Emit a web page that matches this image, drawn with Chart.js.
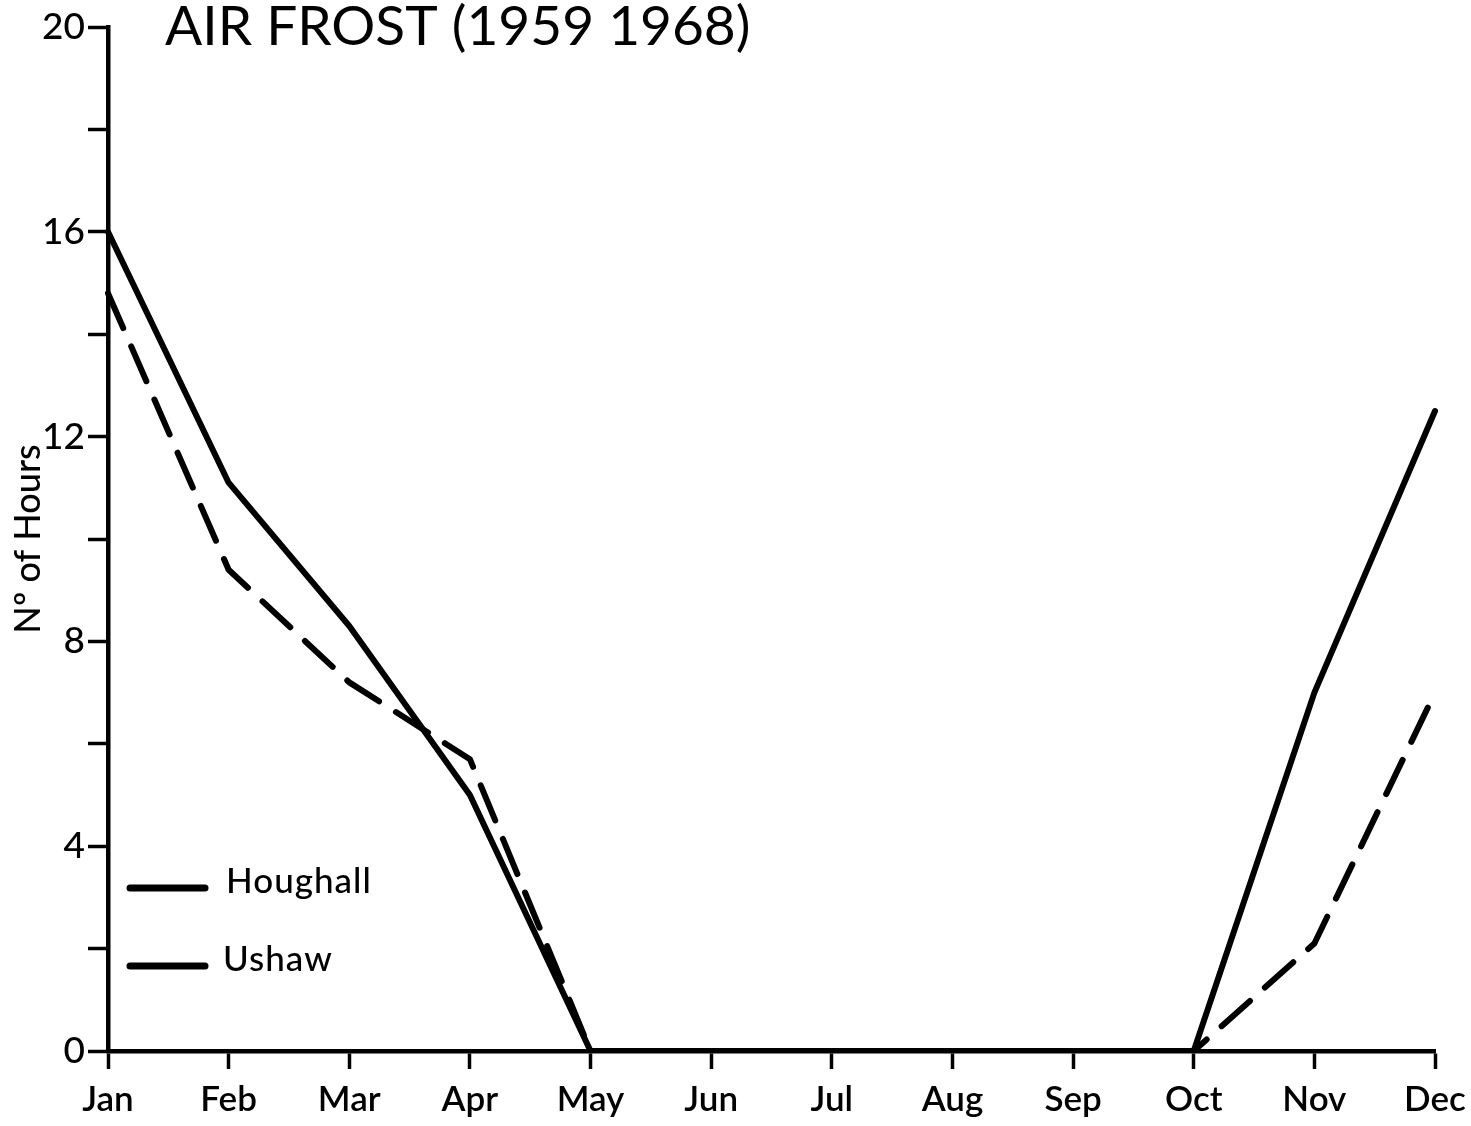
<!DOCTYPE html>
<html>
<head>
<meta charset="utf-8">
<script src="https://cdn.jsdelivr.net/npm/chart.js@4.4.1/dist/chart.umd.min.js"></script>
<style>
  html, body { margin: 0; padding: 0; background: #fff; }
  #wrap { width: 1471px; height: 1126px; position: relative; }
</style>
</head>
<body>
<div id="wrap"><canvas id="c" width="1471" height="1126"></canvas></div>
<script>
// ---- data ----
const chartTitle = 'AIR FROST (1959 1968)';
const yAxisTitle = 'N\u00BA of Hours';
const months = ['Jan','Feb','Mar','Apr','May','Jun','Jul','Aug','Sep','Oct','Nov','Dec'];
const houghall = [16.0, 11.1, 8.3, 5.0, 0, 0, 0, 0, 0, 0, 7.0, 12.5];
const ushaw    = [14.8, 9.4, 7.2, 5.7, 0, 0, 0, 0, 0, 0, 2.1, 7.0];
const yTickLabels = [0, 4, 8, 12, 16, 20];

const FONT = 'Lato, "Open Sans", "DejaVu Sans", sans-serif';

const overlayPlugin = {
  id: 'overlay',
  afterDraw(chart) {
    const ctx = chart.ctx;
    ctx.save();
    // title
    ctx.fillStyle = '#000';
    ctx.font = '400 55px ' + FONT;
    ctx.textBaseline = 'alphabetic';
    ctx.textAlign = 'left';
    ctx.fillText(chartTitle, 165, 45);
    if ('letterSpacing' in ctx) ctx.letterSpacing = '1px';
    // legend inside the plot (bottom-left)
    const items = [
      { ds: chart.data.datasets[0], y: 888, tx: 226 },
      { ds: chart.data.datasets[1], y: 966, tx: 223 }
    ];
    ctx.font = '500 35px ' + FONT;
    ctx.textBaseline = 'middle';
    items.forEach(it => {
      ctx.beginPath();
      ctx.lineWidth = 7;
      ctx.lineCap = 'round';
      ctx.strokeStyle = it.ds.borderColor;
      ctx.setLineDash([]);
      ctx.moveTo(130, it.y);
      ctx.lineTo(205, it.y);
      ctx.stroke();
      ctx.fillText(it.ds.label, it.tx, it.y - 6);
    });
    ctx.restore();
  }
};

new Chart(document.getElementById('c'), {
  type: 'line',
  data: {
    labels: months,
    datasets: [
      {
        label: 'Houghall',
        data: houghall,
        borderColor: '#000',
        borderWidth: 6,
        borderCapStyle: 'round',
        borderJoinStyle: 'round',
        pointRadius: 0,
        tension: 0,
        fill: false
      },
      {
        label: 'Ushaw',
        data: ushaw,
        borderColor: '#000',
        borderWidth: 6,
        borderDash: [38, 20],
        borderCapStyle: 'round',
        borderJoinStyle: 'round',
        pointRadius: 0,
        tension: 0,
        fill: false
      }
    ]
  },
  options: {
    responsive: false,
    animation: false,
    devicePixelRatio: 1,
    layout: { padding: { top: 27, right: 36, left: 0, bottom: 0 } },
    plugins: {
      legend: { display: false },
      title: { display: false },
      tooltip: { enabled: false }
    },
    scales: {
      x: {
        type: 'category',
        offset: false,
        afterFit(scale) { scale.height = 75; scale.paddingLeft = 0; scale.paddingRight = 0; },
        grid: {
          display: true,
          drawOnChartArea: false,
          drawTicks: true,
          tickLength: 18,
          tickWidth: 3.5,
          color: '#000'
        },
        border: { display: true, color: '#000', width: 4.5 },
        ticks: {
          color: '#000',
          padding: 10,
          maxRotation: 0,
          autoSkip: false,
          font: { family: FONT, size: 35, weight: '600' }
        }
      },
      y: {
        type: 'linear',
        min: 0,
        max: 20,
        afterFit(scale) { scale.width = 108; scale.paddingTop = 0; scale.paddingBottom = 0; },
        grid: {
          display: true,
          drawOnChartArea: false,
          drawTicks: true,
          tickLength: 20,
          tickWidth: 3.5,
          color: '#000'
        },
        border: { display: true, color: '#000', width: 4.5 },
        ticks: {
          stepSize: 2,
          color: '#000',
          padding: 3,
          font: { family: FONT, size: 37, weight: '500' },
          callback: (v) => yTickLabels.includes(v) ? String(v) : ''
        },
        title: {
          display: true,
          text: yAxisTitle,
          color: '#000',
          padding: { top: 7, bottom: 0 },
          font: { family: FONT, size: 36, weight: '500' }
        }
      }
    }
  },
  plugins: [overlayPlugin]
});
</script>
</body>
</html>
